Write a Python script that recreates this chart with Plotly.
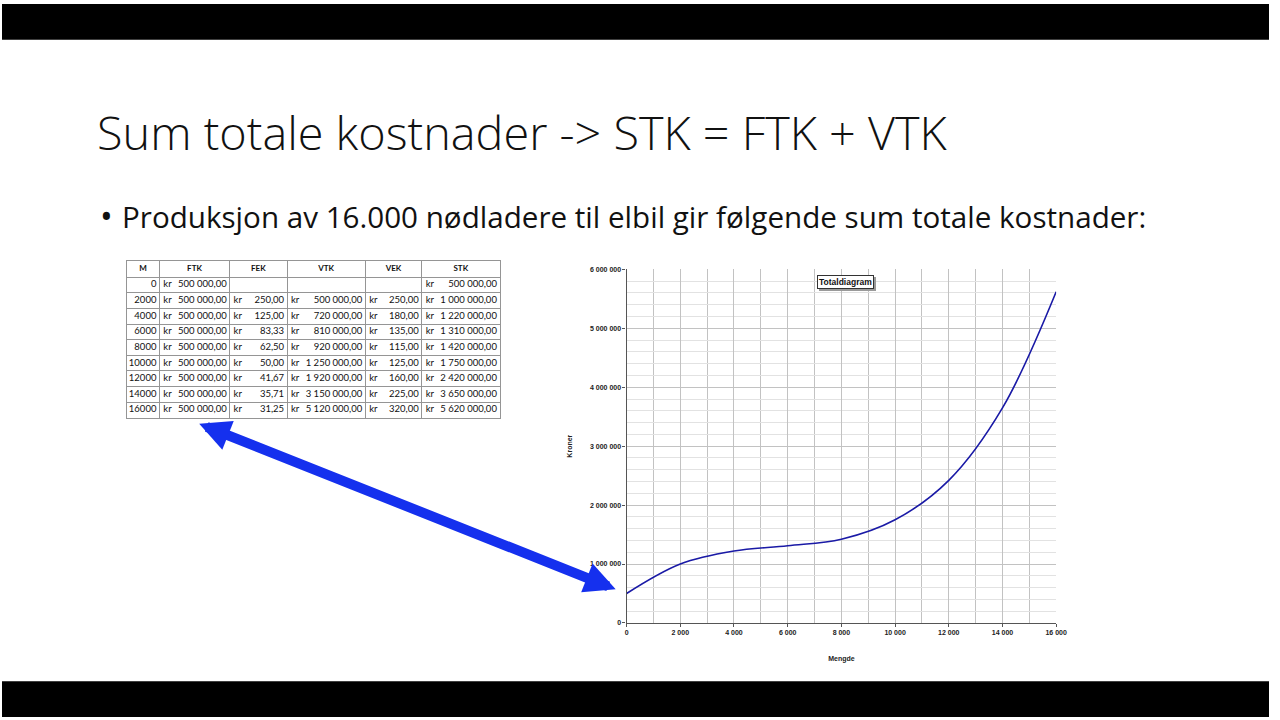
import plotly.graph_objects as go

# ---------------- data ----------------
M = [0, 2000, 4000, 6000, 8000, 10000, 12000, 14000, 16000]
FTK = [500000, 500000, 500000, 500000, 500000, 500000, 500000, 500000, 500000]
FEK = [None, 250.00, 125.00, 83.33, 62.50, 50.00, 41.67, 35.71, 31.25]
VTK = [None, 500000, 720000, 810000, 920000, 1250000, 1920000, 3150000, 5120000]
VEK = [None, 250.00, 180.00, 135.00, 115.00, 125.00, 160.00, 225.00, 320.00]
STK = [500000, 1000000, 1220000, 1310000, 1420000, 1750000, 2420000, 3650000, 5620000]
HEADERS = ["M", "FTK", "FEK", "VTK", "VEK", "STK"]

TITLE = "Sum totale kostnader -> STK = FTK + VTK"
BULLET = "Produksjon av 16.000 nødladere til elbil gir følgende sum totale kostnader:"
CHART_TITLE = "Totaldiagram"
X_TITLE = "Mengde"
Y_TITLE = "Kroner"

# ---------------- layout helpers ----------------
W, H = 1280, 720


def px(x):
    return x / W


def py(y):
    return 1 - y / H


def nok(v):
    if v is None:
        return ""
    return f"{v:,.2f}".replace(",", " ").replace(".", ",")


# table column boundaries (in table-axis units = pixels)
COL_EDGES = [126, 159, 230, 288, 367, 424, 503]
rows = list(range(1, len(M) + 1))

fig = go.Figure()

# ---- chart curve
fig.add_trace(go.Scatter(
    x=M, y=STK, mode="lines",
    line=dict(color="#1a1aa6", width=1.6, shape="spline"),
    xaxis="x", yaxis="y", hoverinfo="x+y", showlegend=False,
))

# ---- table text
body_font = dict(family="Lato, Open Sans, sans-serif", size=9.5, color="#111")
hdr_font = dict(family="Lato, Open Sans, sans-serif", size=8, color="#111", weight="bold")

centers = [(COL_EDGES[i] + COL_EDGES[i + 1]) / 2 for i in range(6)]
fig.add_trace(go.Scatter(
    x=centers, y=[0] * 6, text=HEADERS, mode="text", textposition="middle center",
    textfont=hdr_font, xaxis="x2", yaxis="y2", hoverinfo="skip", showlegend=False,
))
fig.add_trace(go.Scatter(
    x=[COL_EDGES[1] - 3] * len(M), y=rows, text=[str(m) for m in M], mode="text",
    textposition="middle left", textfont=body_font, xaxis="x2", yaxis="y2",
    hoverinfo="skip", showlegend=False,
))
for ci, col in enumerate([FTK, FEK, VTK, VEK, STK], start=1):
    left, right = COL_EDGES[ci], COL_EDGES[ci + 1]
    kr = ["kr" if v is not None else "" for v in col]
    fig.add_trace(go.Scatter(
        x=[left + 4] * len(col), y=rows, text=kr, mode="text",
        textposition="middle right", textfont=body_font, xaxis="x2", yaxis="y2",
        hoverinfo="skip", showlegend=False,
    ))
    fig.add_trace(go.Scatter(
        x=[right - 3] * len(col), y=rows, text=[nok(v) for v in col], mode="text",
        textposition="middle left", textfont=body_font, xaxis="x2", yaxis="y2",
        hoverinfo="skip", showlegend=False,
    ))

tick_font = dict(family="Arial, Liberation Sans, sans-serif", size=7, color="#222", weight="bold")
grid_c = "#c2c2c2"
minor_c = "#e2e2e2"
tbl_c = "#959595"

fig.update_layout(
    width=W, height=H,
    margin=dict(l=0, r=0, t=0, b=0),
    paper_bgcolor="white", plot_bgcolor="white",
    separators=", ",
    showlegend=False,
    xaxis=dict(
        domain=[px(631), px(1065)], range=[0, 16000], dtick=2000, tick0=0,
        tickformat=",", showgrid=True, gridcolor=grid_c, gridwidth=1,
        minor=dict(dtick=1000, tick0=0, showgrid=True, gridcolor=grid_c, ticks=""),
        showline=True, linecolor="#555", linewidth=1.2, ticks="outside", ticklen=3,
        tickcolor="#555", tickfont=tick_font, zeroline=False, anchor="y",
        title=dict(text=X_TITLE, font=tick_font, standoff=20),
    ),
    yaxis=dict(
        domain=[py(625), py(268)], range=[0, 6000000], dtick=1000000, tick0=0,
        tickformat=",", showgrid=True, gridcolor=grid_c, gridwidth=1,
        minor=dict(dtick=200000, tick0=0, showgrid=True, gridcolor=minor_c, ticks=""),
        showline=True, linecolor="#555", linewidth=1.2, ticks="outside", ticklen=3,
        tickcolor="#555", tickfont=tick_font, zeroline=False, anchor="x",
        title=dict(text=Y_TITLE, font=tick_font, standoff=16),
    ),
    xaxis2=dict(
        domain=[px(COL_EDGES[0]), px(COL_EDGES[-1])], range=[COL_EDGES[0], COL_EDGES[-1]],
        tickmode="array", tickvals=COL_EDGES[1:-1], showticklabels=False, ticks="",
        showgrid=True, gridcolor=tbl_c, gridwidth=1, zeroline=False,
        showline=True, mirror=True, linecolor=tbl_c, linewidth=1, anchor="y2",
        fixedrange=True,
    ),
    yaxis2=dict(
        domain=[py(418), py(260)], range=[len(M) + 0.5, -0.5],
        tickmode="array", tickvals=[r - 0.5 for r in rows], showticklabels=False, ticks="",
        showgrid=True, gridcolor=tbl_c, gridwidth=1, zeroline=False,
        showline=True, mirror=True, linecolor=tbl_c, linewidth=1, anchor="x2",
        fixedrange=True,
    ),
)

# black letterbox bars
fig.add_shape(type="rect", xref="paper", yref="paper", x0=0, x1=1, y0=py(36), y1=1,
              fillcolor="black", line_width=0, layer="above")
fig.add_shape(type="rect", xref="paper", yref="paper", x0=0, x1=1, y0=0, y1=py(684),
              fillcolor="black", line_width=0, layer="above")

slide_font = "Open Sans, Lato, sans-serif"
annotations = [
    dict(text=TITLE, x=px(94), y=py(129), xanchor="left", yanchor="middle",
         font=dict(family=slide_font, size=46.8, color="#111", weight=300)),
    dict(text="•", x=px(97), y=py(214), xanchor="left", yanchor="middle",
         font=dict(family=slide_font, size=34, color="#111")),
    dict(text=BULLET, x=px(119), y=py(215), xanchor="left", yanchor="middle",
         font=dict(family=slide_font, size=29.6, color="#111")),
    # chart title shadow + box
    dict(text=CHART_TITLE, x=px(854), y=py(283), xanchor="center", yanchor="middle",
         font=dict(family="Arial, Liberation Sans", size=8.5, color="#9a9a9a", weight="bold"),
         bgcolor="#9a9a9a", bordercolor="#9a9a9a", borderwidth=1, borderpad=1),
    dict(text=CHART_TITLE, x=px(852), y=py(281), xanchor="center", yanchor="middle",
         font=dict(family="Arial, Liberation Sans", size=8.5, color="#111", weight="bold"),
         bgcolor="white", bordercolor="#333", borderwidth=1, borderpad=1),
    # double-headed blue arrow
    dict(text="", x=px(620), y=py(591), xref="paper", yref="paper",
         ax=-418, ay=-166, axref="pixel", ayref="pixel", showarrow=True,
         arrowhead=2, startarrowhead=2, arrowside="end+start",
         arrowsize=0.62, startarrowsize=0.62, arrowwidth=10, arrowcolor="#1530ee",
         standoff=0, startstandoff=0),
]
for a in annotations:
    a.setdefault("xref", "paper")
    a.setdefault("yref", "paper")
    a.setdefault("showarrow", False)
    fig.add_annotation(**a)

POST = (
    "document.documentElement.style.margin='0';"
    "document.documentElement.style.padding='0';"
    "document.body.style.margin='0';document.body.style.padding='0';"
    "document.body.style.overflow='hidden';"
    "var d=document.getElementById('{plot_id}');"
    "d.style.position='fixed';d.style.left='0px';d.style.top='0px';"
)

fig.write_html(
    "out.html",
    config={"displayModeBar": False},
    post_script=POST,
)
